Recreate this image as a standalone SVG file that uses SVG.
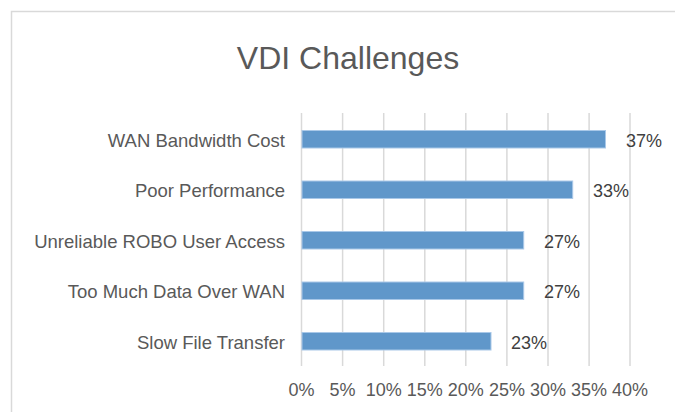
<svg xmlns="http://www.w3.org/2000/svg" width="675" height="412" viewBox="0 0 675 412">
  <style>
    .frame { fill: #ffffff; stroke: #d9d9d9; stroke-width: 1.5; }
    .grid { stroke: #d9d9d9; stroke-width: 1.5; }
    .bar { fill: #6097ca; stroke: #a9c8e8; stroke-width: 1; }
    .title { font-family: "Liberation Sans", Arial, sans-serif; font-size: 32px; fill: #595959; text-anchor: middle; }
    .cat { font-family: "Liberation Sans", Arial, sans-serif; font-size: 18.5px; fill: #595959; text-anchor: end; }
    .val { font-family: "Liberation Sans", Arial, sans-serif; font-size: 18px; fill: #404040; text-anchor: start; }
    .tick { font-family: "Liberation Sans", Arial, sans-serif; font-size: 18px; fill: #595959; text-anchor: middle; }
  </style>

  <!-- chart area -->
  <rect class="frame" x="11.5" y="11.5" width="700" height="420"/>

  <text class="title" x="348" y="69">VDI Challenges</text>

  <!-- vertical gridlines, 0% .. 40% -->
  <g id="gridlines">
    <line class="grid" x1="301.5" y1="113" x2="301.5" y2="366"/>
    <line class="grid" x1="342.6" y1="113" x2="342.6" y2="366"/>
    <line class="grid" x1="383.7" y1="113" x2="383.7" y2="366"/>
    <line class="grid" x1="424.8" y1="113" x2="424.8" y2="366"/>
    <line class="grid" x1="465.8" y1="113" x2="465.8" y2="366"/>
    <line class="grid" x1="506.9" y1="113" x2="506.9" y2="366"/>
    <line class="grid" x1="548" y1="113" x2="548" y2="366"/>
    <line class="grid" x1="589.1" y1="113" x2="589.1" y2="366"/>
    <line class="grid" x1="630" y1="113" x2="630" y2="366"/>
  </g>

  <!-- horizontal axis labels -->
  <g id="axis">
    <text class="tick" x="301.5" y="395.5">0%</text>
    <text class="tick" x="342.6" y="395.5">5%</text>
    <text class="tick" x="383.7" y="395.5">10%</text>
    <text class="tick" x="424.8" y="395.5">15%</text>
    <text class="tick" x="465.8" y="395.5">20%</text>
    <text class="tick" x="506.9" y="395.5">25%</text>
    <text class="tick" x="548" y="395.5">30%</text>
    <text class="tick" x="589.1" y="395.5">35%</text>
    <text class="tick" x="630" y="395.5">40%</text>
  </g>

  <g id="bar-wan-bandwidth-cost">
    <text class="cat" x="285" y="146.5">WAN Bandwidth Cost</text>
    <rect class="bar" x="302" y="130.5" width="303.5" height="17.5"/>
    <text class="val" x="626" y="146.5">37%</text>
  </g>

  <g id="bar-poor-performance">
    <text class="cat" x="285" y="197">Poor Performance</text>
    <rect class="bar" x="302" y="181" width="270.7" height="17.5"/>
    <text class="val" x="593" y="197">33%</text>
  </g>

  <g id="bar-unreliable-robo">
    <text class="cat" x="285" y="247.5">Unreliable ROBO User Access</text>
    <rect class="bar" x="302" y="231.5" width="221.7" height="17.5"/>
    <text class="val" x="544" y="247.5">27%</text>
  </g>

  <g id="bar-too-much-data">
    <text class="cat" x="285" y="298">Too Much Data Over WAN</text>
    <rect class="bar" x="302" y="282" width="221.7" height="17.5"/>
    <text class="val" x="544" y="298">27%</text>
  </g>

  <g id="bar-slow-file-transfer">
    <text class="cat" x="285" y="348.5">Slow File Transfer</text>
    <rect class="bar" x="302" y="332.5" width="189" height="17.5"/>
    <text class="val" x="511" y="348.5">23%</text>
  </g>
</svg>
